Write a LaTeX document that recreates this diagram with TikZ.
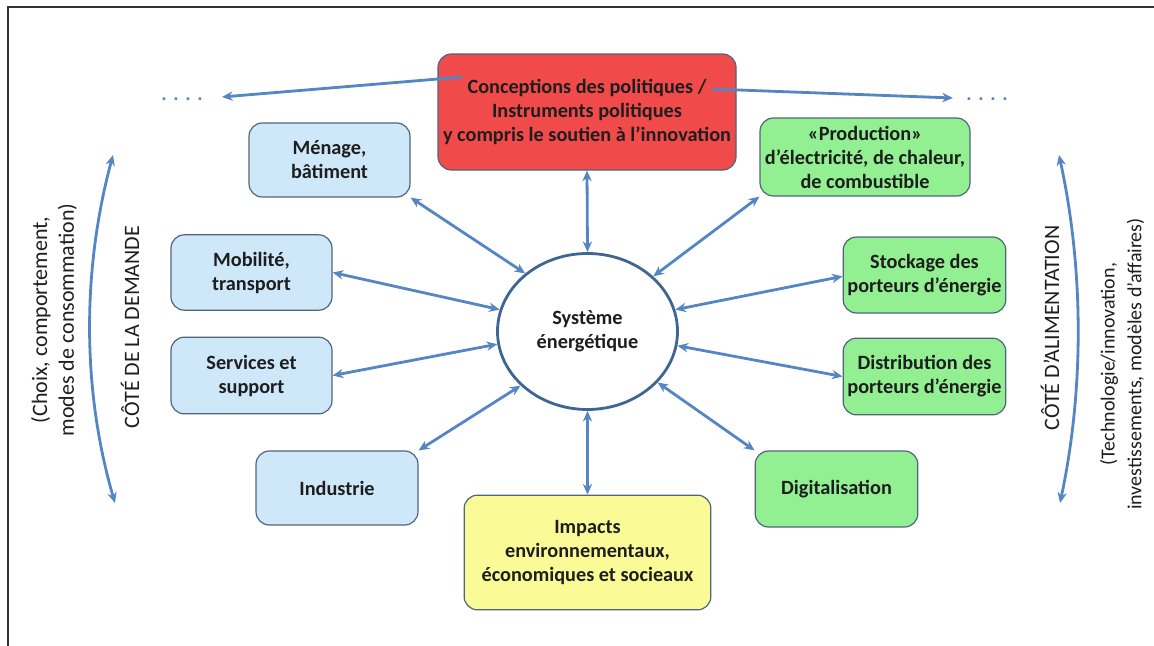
\documentclass[tikz,border=0pt]{standalone}
\usepackage{fontspec}
\setmainfont{Carlito}
\usetikzlibrary{arrows.meta}
\usetikzlibrary{shapes.geometric}
\usetikzlibrary{positioning}

\definecolor{arrowblue}{RGB}{84,134,196}
\definecolor{boxline}{RGB}{80,100,125}
\definecolor{boxblue}{RGB}{206,232,250}
\definecolor{boxgreen}{RGB}{146,240,146}
\definecolor{boxyellow}{RGB}{250,250,150}
\definecolor{boxred}{RGB}{240,74,74}
\definecolor{textdark}{RGB}{30,30,30}

\begin{document}
\begin{tikzpicture}[x=0.75pt, y=-0.75pt, >={Stealth[length=8pt,width=7pt]},
    box/.style={draw=boxline, line width=0.9pt, rounded corners=10pt, align=center, text=textdark,
        font=\bfseries\fontsize{15.2}{18}\selectfont, inner sep=1pt},
    side/.style={rotate=90, align=center, text=textdark, font=\fontsize{16.5}{20}\selectfont},
    link/.style={<->, draw=arrowblue, line width=2.1pt}]
    \useasboundingbox (0,0) rectangle (1154,646);
    \draw[line width=1.5pt, black!80] (8,646) -- (8,7) -- (1154,7);

    \node[draw=arrowblue!75!black, line width=2.1pt, ellipse, fill=white, minimum width=135pt, minimum height=117pt,
        align=center, text=textdark, font=\bfseries\fontsize{15.2}{18}\selectfont] (sys) at (587.5,331.5) {Système\\énergétique};

    \node[box, fill=boxred, minimum width=223.5pt, minimum height=87pt] (pol) at (587,112) {Conceptions des politiques /\\Instruments politiques\\y compris le soutien à l’innovation};
    \node[box, fill=boxyellow, minimum width=185pt, minimum height=86pt] (imp) at (587.5,552.5) {Impacts\\environnementaux,\\économiques et socieaux};

    \node[box, fill=boxblue, minimum width=120.75pt, minimum height=55.5pt] (men) at (329.5,160) {Ménage,\\bâtiment};
    \node[box, fill=boxblue, minimum width=120.75pt, minimum height=56.5pt] (mob) at (251.5,272.5) {Mobilité,\\transport};
    \node[box, fill=boxblue, minimum width=120.75pt, minimum height=57.5pt] (serv) at (251.5,375.5) {Services et\\support};
    \node[box, fill=boxblue, minimum width=121.5pt, minimum height=55.5pt] (ind) at (337,488) {Industrie};

    \node[box, fill=boxgreen, minimum width=157.5pt, minimum height=58.5pt] (prod) at (865,157) {«Production»\\d’électricité, de chaleur,\\de combustible};
    \node[box, fill=boxgreen, minimum width=122pt, minimum height=57pt] (stock) at (924.5,275) {Stockage des\\porteurs d’énergie};
    \node[box, fill=boxgreen, minimum width=122pt, minimum height=57.5pt] (dist) at (924.5,376.5) {Distribution des\\porteurs d’énergie};
    \node[box, fill=boxgreen, minimum width=122pt, minimum height=57pt] (dig) at (836.5,489) {Digitalisation};

    \node[text=arrowblue, font=\bfseries\fontsize{15}{16}\selectfont] (ldots) at (182,99) {.\,\,.\,\,.\,\,.};
    \node[text=arrowblue, font=\bfseries\fontsize{15}{16}\selectfont] (rdots) at (987,99) {.\,\,.\,\,.\,\,.};
    \coordinate (lstart) at (462,77);
    \coordinate (rstart) at (712,89);
    \draw[->, draw=arrowblue, line width=2.1pt] (lstart) -- (222,97);
    \draw[->, draw=arrowblue, line width=2.1pt] (rstart) -- (953,98);

    \draw[link] (pol.south) -- (sys.north);
    \draw[link] (sys.south) -- (imp.north);
    \draw[link] (men.south east) -- (sys.137);
    \draw[link] (mob.east) -- (sys.166);
    \draw[link] (serv.east) -- (sys.188);
    \draw[link] (ind.north east) -- (sys.219);
    \draw[link] (prod.south west) -- (sys.40);
    \draw[link] ([yshift=-1pt]stock.west) -- (sys.14);
    \draw[link] (dist.west) -- (sys.351);
    \draw[link] (dig.north west) -- (sys.324);

    \node[side] (dem) at (130,327) {CÔTÉ DE LA DEMANDE};
    \node[side] (demsub) at (54,320) {(Choix, comportement,\\modes de consommation)};
    \node[side] (ali) at (1050,328) {CÔTÉ D’ALIMENTATION};
    \node[side, font=\fontsize{15}{20}\selectfont] (alisub) at (1122,364) {(Technologie/innovation,\\investissements, modèles d’affaires)};

    \coordinate (ltop) at (113,155);
    \coordinate (lbot) at (115,503);
    \coordinate (rtop) at (1059,155);
    \coordinate (rbot) at (1060,503);
    \draw[link] (ltop) .. controls (82,270) and (82,390) .. (lbot);
    \draw[link] (rtop) .. controls (1084,270) and (1084,390) .. (rbot);
\end{tikzpicture}
\end{document}
